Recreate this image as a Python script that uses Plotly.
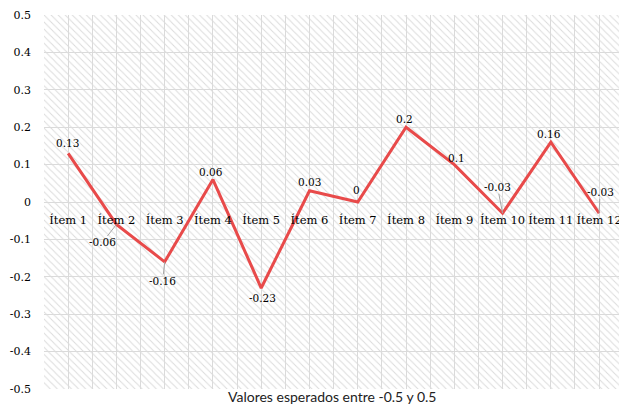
import plotly.graph_objects as go

# Data
categories = ["Ítem 1", "Ítem 2", "Ítem 3", "Ítem 4", "Ítem 5", "Ítem 6",
              "Ítem 7", "Ítem 8", "Ítem 9", "Ítem 10", "Ítem 11", "Ítem 12"]
values = [0.13, -0.06, -0.16, 0.06, -0.23, 0.03, 0, 0.2, 0.1, -0.03, 0.16, -0.03]
y_tick_vals = [0.5, 0.4, 0.3, 0.2, 0.1, 0, -0.1, -0.2, -0.3, -0.4, -0.5]
y_tick_text = ["0.5", "0.4", "0.3", "0.2", "0.1", "0", "-0.1", "-0.2", "-0.3", "-0.4", "-0.5"]
x_title = "Valores esperados entre -0.5 y 0.5"

# label placement (pixel offset of label centre from its point) and leader-line flag
label_dx = [-1, -14, -2, -2, 1, 0, -1, -2, 2, -5, -2, 1]
label_dy = [-10, 18, 19, -8, 10, -9, -12, -8, -7, -26, -8, -21]
leader = [False, True, True, False, False, False, False, False, False, True, False, True]

serif = "DejaVu Serif"
grid_col = "#dadada"
line_col = "#e84a4a"

x_pos = list(range(1, len(categories) + 1))
n = len(categories)
y_lo, y_hi = min(y_tick_vals), max(y_tick_vals)

fig = go.Figure()

# hatched plot background
fig.add_trace(go.Bar(
    x=[(1 + n) / 2], y=[y_hi - y_lo], base=[y_lo], width=[n],
    marker=dict(
        color="rgba(0,0,0,0)",
        line=dict(width=0),
        pattern=dict(shape="\\", size=5, solidity=0.2,
                     fgcolor="#dcdcdc", bgcolor="rgba(0,0,0,0)", fillmode="replace"),
    ),
    hoverinfo="skip", showlegend=False,
))

fig.add_trace(go.Scatter(
    x=x_pos, y=values, mode="lines",
    line=dict(color=line_col, width=3),
    showlegend=False,
    hovertemplate="%{text}: %{y}<extra></extra>", text=categories,
))

for i, v in enumerate(values):
    fig.add_annotation(
        x=x_pos[i], y=v, text=str(v),
        showarrow=True, arrowhead=0, arrowwidth=1,
        arrowcolor="#a6a6a6" if leader[i] else "rgba(0,0,0,0)",
        ax=label_dx[i], ay=label_dy[i], standoff=0, borderpad=0,
        font=dict(family=serif, size=10.5, color="#000"),
    )

fig.add_annotation(
    x=0.5, y=0, xref="paper", yref="paper", yanchor="top", yshift=3,
    text=x_title, showarrow=False,
    font=dict(family="Lato", size=14, color="#222"),
)

fig.update_layout(
    width=619, height=408,
    margin=dict(l=44, r=0, t=15, b=19),
    paper_bgcolor="white", plot_bgcolor="white",
    showlegend=False, bargap=0,
)

fig.update_xaxes(
    range=[0.5, 0.5 + (619 - 44) / 48.27],
    tickvals=x_pos, ticktext=categories,
    anchor="free", position=0.5,
    showgrid=True, gridcolor=grid_col, gridwidth=1,
    minor=dict(tick0=0.5, dtick=1, showgrid=True, gridcolor=grid_col, gridwidth=1),
    showline=False, zeroline=False, ticks="", ticklabelstandoff=9,
    ticklabeloverflow="allow", tickangle=0, automargin=False,
    tickfont=dict(family=serif, size=11.5, color="#000"),
)

fig.update_yaxes(
    range=[y_lo, y_hi],
    tickvals=y_tick_vals, ticktext=y_tick_text,
    showgrid=True, gridcolor=grid_col, gridwidth=1,
    zeroline=True, zerolinecolor=grid_col, zerolinewidth=1,
    showline=False, ticks="", ticklabelstandoff=12, automargin=False,
    tickfont=dict(family=serif, size=11, color="#000"),
)

# page body has a default 8px margin; drop it so the chart sits at the window origin
fig.write_html("out.html", config={"displayModeBar": False},
               post_script="document.body.style.margin='0';")
